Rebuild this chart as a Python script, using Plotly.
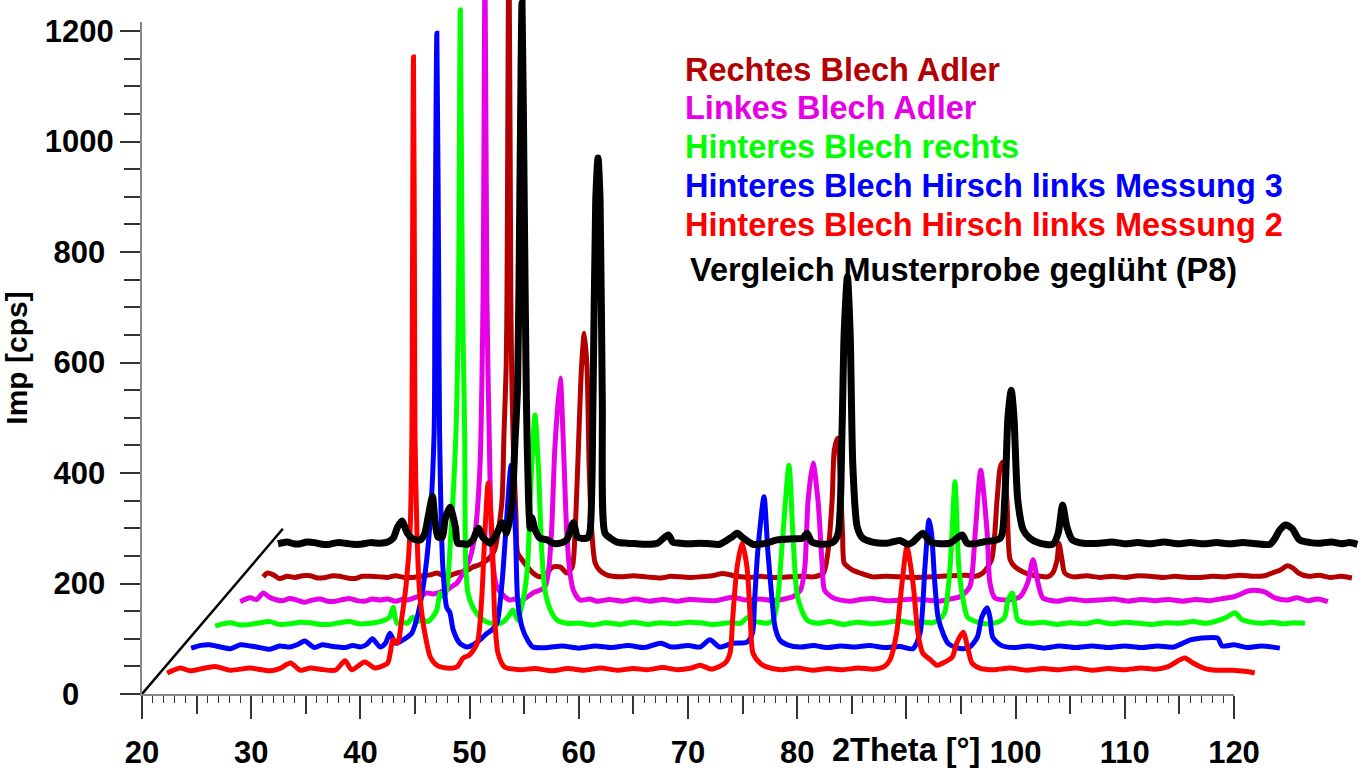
import plotly.graph_objects as go

# ---------------- data (2Theta [deg], Imp [cps]) as displayed, incl. waterfall offsets ----------------
RED_M2 = [(22.3,38),(23.5,47),(24.4,42),(25.3,45),(26.7,50),(28.1,43),(29.9,47),(31.7,42),(32.6,46),(33.6,56),
 (34.5,43),(35.4,47),(36.3,45),(37.7,43),(38.6,60),(39.2,44),(40.4,58),(41.3,47),(41.8,49),(42.5,56),(43.0,98),
 (43.4,92),(43.8,139),(44.2,200),(44.54,291),(44.72,472),(44.76,713),(44.86,1153),(44.96,713),(45.0,472),
 (45.18,291),(45.4,190),(45.6,150),(45.9,110),(46.4,67),(47.0,52),(47.9,47),(48.85,49),(49.4,65),(50.0,71),
 (50.7,92),(51.1,170),(51.4,291),(51.7,382),(52.05,291),(52.3,139),(52.6,74),(53.2,49),(54.6,44),(56.0,46),
 (57.5,42),(59.0,46),(60.5,43),(62.0,47),(63.5,43),(65.0,46),(66.3,44),(67.7,48),(69.0,44),(70.3,47),(71.1,52),
 (72.2,45),(73.4,56),(73.85,74),(74.1,139),(74.5,230),(74.95,273),(75.4,230),(75.7,139),(75.95,74),(76.6,56),
 (77.2,49),(78.5,44),(80.0,47),(81.4,43),(82.8,46),(84.2,44),(85.6,47),(87.0,45),(88.0,50),(88.5,62),(89.1,110),
 (89.6,201),(90.05,266),(90.6,201),(91.06,110),(91.5,74),(92.2,62),(92.8,52),(93.35,56),(94.2,67),(94.6,92),
 (95.2,112),(95.6,85),(96.0,56),(96.7,47),(98.0,44),(99.5,47),(101.0,43),(102.5,46),(104.0,44),(105.5,47),
 (107.0,43),(108.5,46),(110.0,44),(111.5,47),(112.8,45),(113.9,49),(115.05,62),(115.5,65),(116.25,56),
 (117.2,47),(118.4,43),(119.9,43),(121.0,41),(121.9,38)]

BLUE_M3 = [(24.5,83),(25.4,88),(26.2,89),(27.2,85),(28.1,82),(29.0,89),(29.9,87),(30.8,84),(31.7,81),(32.6,87),
 (33.55,85),(34.3,90),(34.9,96),(35.8,84),(36.5,89),(37.2,87),(38.0,85),(38.6,84),(39.3,88),(40.0,85),(40.6,90),
 (41.1,100),(41.8,85),(42.3,92),(42.7,110),(43.2,92),(43.9,98),(44.7,110),(45.3,147),(45.8,201),(46.3,291),
 (46.75,472),(46.82,713),(47.0,1196),(47.18,713),(47.25,472),(47.55,230),(47.9,157),(48.2,147),(48.5,116),
 (49.1,92),(49.8,85),(50.3,89),(50.95,98),(51.6,110),(52.05,116),(52.5,128),(52.97,201),(53.4,320),(53.8,414),
 (54.2,291),(54.4,170),(54.8,121),(55.3,98),(55.8,85),(57.1,84),(58.5,87),(60.0,83),(61.5,87),(63.0,84),
 (64.5,88),(66.0,84),(67.5,92),(68.5,85),(70.0,88),(71.1,85),(72.0,98),(72.9,85),(74.1,92),(75.4,94),(75.9,110),
 (76.1,170),(76.4,261),(76.96,357),(77.3,261),(77.7,170),(77.97,121),(78.4,98),(79.1,89),(80.3,85),(81.5,88),
 (82.7,84),(84.0,87),(85.3,85),(86.6,88),(88.0,84),(89.4,86),(90.6,82),(91.25,110),(91.7,230),(92.07,315),
 (92.3,291),(92.6,201),(92.9,139),(93.35,110),(93.8,92),(94.6,84),(95.2,82),(95.8,85),(96.5,103),(96.9,139),
 (97.4,156),(97.65,139),(97.9,103),(98.6,89),(99.8,84),(101.2,87),(102.6,83),(104.0,87),(105.5,84),(107.0,87),
 (108.5,84),(110.0,87),(111.5,84),(113.0,87),(114.5,85),(116.0,98),(116.9,101),(118.5,101),(118.9,87),
 (120.0,89),(121.2,84),(122.5,87),(124.2,83)]

GREEN_R = [(26.7,123),(27.4,127),(28.1,129),(29.0,125),(29.9,126),(30.8,129),(31.7,131),(32.6,126),(33.55,127),
 (34.5,130),(35.4,129),(36.3,126),(37.2,126),(38.1,129),(39.0,131),(39.9,127),(40.9,128),(41.6,130),(42.25,134),
 (42.7,140),(43.0,157),(43.35,128),(43.8,130),(44.3,128),(44.8,139),(45.2,131),(45.7,134),(46.2,131),(46.6,139),
 (47.0,152),(47.3,183),(47.6,176),(47.9,188),(48.25,279),(48.75,472),(48.98,713),(49.15,1238),(49.35,713),
 (49.55,472),(49.65,230),(49.85,183),(50.3,157),(50.95,139),(51.6,130),(52.1,128),(52.6,127),(53.05,130),
 (53.5,139),(53.97,152),(54.4,134),(54.9,170),(55.3,230),(55.55,351),(55.99,505),(56.3,411),(56.6,261),
 (56.9,188),(57.4,152),(58.0,134),(58.9,128),(60.1,128),(61.3,125),(62.5,129),(63.8,126),(65.0,130),(66.3,126),
 (67.5,129),(68.8,127),(70.0,130),(71.1,129),(72.3,126),(73.85,129),(74.8,128),(75.5,139),(76.0,131),(76.6,130),
 (77.2,128),(77.8,134),(78.2,170),(78.7,291),(79.25,414),(79.6,291),(79.97,183),(80.4,152),(80.9,134),
 (81.8,128),(83.0,131),(84.2,126),(85.5,130),(86.8,127),(88.0,129),(89.4,132),(90.7,128),(91.6,130),(92.4,129),
 (93.0,135),(93.5,147),(94.0,230),(94.45,384),(94.8,230),(95.2,170),(95.6,139),(96.5,130),(97.2,127),
 (97.9,128),(98.5,131),(99.0,139),(99.3,170),(99.7,183),(99.95,157),(100.2,134),(101.3,128),(102.5,130),
 (103.8,126),(105.0,129),(106.3,127),(107.5,131),(108.8,127),(110.0,130),(111.3,128),(112.5,126),(113.8,129),
 (115.0,128),(116.3,131),(117.5,128),(118.7,134),(119.4,140),(120.1,147),(120.7,135),(121.5,130),(122.5,128),
 (123.5,130),(124.5,127),(125.5,129),(126.5,128)]

MAGENTA_L = [(29.0,167),(29.9,174),(30.5,171),(31.1,183),(31.6,176),(32.2,171),(32.9,169),(33.55,173),(34.2,170),
 (34.9,166),(35.6,170),(36.3,172),(37.0,168),(37.7,168),(38.4,171),(39.0,173),(39.7,169),(40.4,168),(41.1,172),
 (41.8,170),(42.5,172),(43.2,168),(43.8,171),(44.3,170),(44.8,173),(45.2,176),(45.7,179),(46.1,183),(46.6,181),
 (47.1,183),(47.5,186),(47.9,188),(48.4,195),(48.85,201),(49.4,219),(50.0,243),(50.5,291),(50.95,411),
 (51.23,713),(51.41,1310),(51.59,713),(51.85,411),(52.1,243),(52.5,194),(53.05,179),(53.7,170),(54.1,172),
 (54.6,168),(55.3,176),(55.8,183),(56.45,188),(56.9,194),(57.2,219),(57.5,291),(57.8,442),(58.3,572),
 (58.55,472),(58.9,291),(59.2,219),(59.5,188),(60.1,170),(61.0,172),(61.7,168),(62.8,171),(64.0,168),
 (65.2,172),(66.5,168),(67.7,171),(69.0,168),(70.1,171),(71.1,170),(72.5,169),(74.1,175),(75.3,170),(76.6,172),
 (77.8,169),(78.8,172),(79.6,176),(80.3,188),(80.7,230),(81.0,351),(81.45,418),(81.9,351),(82.3,230),
 (82.5,188),(83.3,174),(84.0,170),(84.8,168),(85.8,171),(86.9,173),(88.1,169),(89.4,170),(90.6,172),(91.9,170),
 (93.0,168),(94.0,172),(94.9,176),(95.8,194),(96.3,291),(96.8,405),(97.4,291),(97.65,201),(98.1,174),
 (99.2,170),(100.4,176),(101.1,201),(101.6,243),(102.05,201),(102.5,174),(103.8,168),(105.0,172),(106.3,169),
 (107.7,170),(109.0,172),(110.3,168),(111.5,171),(112.8,169),(114.0,171),(115.3,168),(116.5,171),(117.8,169),
 (119.0,173),(120.0,176),(120.55,180),(121.2,186),(121.9,188),(122.8,185),(123.75,174),(124.8,170),(125.8,174),
 (126.8,169),(127.7,172),(128.6,167)]

DARKRED_R = [(31.1,212),(31.5,219),(32.0,216),(32.6,209),(33.3,213),(34.0,211),(34.7,214),(35.4,214),(36.1,210),
 (36.8,211),(37.5,214),(38.1,213),(38.8,210),(39.5,209),(40.2,213),(40.9,213),(41.8,212),(42.5,211),(43.2,214),
 (44.0,211),(44.8,211),(45.4,213),(45.9,214),(46.5,216),(47.0,219),(47.9,212),(48.4,216),(48.85,219),(49.3,221),
 (49.8,224),(50.3,230),(50.8,233),(51.2,237),(51.9,248),(52.3,261),(52.6,291),(52.97,351),(53.15,472),
 (53.35,592),(53.42,713),(53.6,1380),(53.78,713),(53.85,592),(53.97,472),(54.25,320),(54.4,255),(54.8,243),
 (55.3,230),(55.8,219),(56.45,212),(57.1,219),(57.6,230),(58.3,230),(58.9,219),(59.4,230),(59.65,291),
 (59.9,411),(60.25,592),(60.5,653),(60.75,592),(60.95,411),(61.2,291),(61.5,237),(61.9,224),(62.6,215),
 (63.8,212),(65.0,214),(66.2,212),(67.5,210),(68.4,213),(69.3,212),(70.2,211),(71.1,212),(72.2,214),(73.2,218),
 (74.5,213),(75.6,211),(76.6,213),(77.9,211),(79.3,212),(80.4,213),(81.45,212),(82.4,219),(82.8,255),
 (83.2,351),(83.4,442),(83.7,463),(83.9,411),(84.15,291),(84.3,237),(84.65,230),(85.1,224),(85.75,219),
 (86.9,212),(88.1,213),(89.4,212),(90.8,211),(92.4,212),(93.9,214),(95.55,215),(96.3,213),(97.0,219),
 (97.8,243),(98.3,351),(98.6,411),(98.85,420),(99.2,351),(99.5,243),(99.95,230),(100.7,221),(101.6,215),
 (102.3,213),(102.9,212),(103.4,219),(103.8,243),(103.97,273),(104.25,243),(104.5,219),(105.3,212),(106.5,214),
 (107.7,211),(108.9,213),(110.1,211),(111.2,214),(112.3,213),(113.5,211),(114.6,213),(115.8,211),(116.9,211),
 (118.0,213),(119.2,212),(120.55,215),(121.7,213),(122.8,214),(123.5,219),(124.2,224),(124.9,232),(125.4,228),
 (125.9,219),(126.8,213),(127.8,215),(128.8,211),(129.8,213),(130.8,210)]

BLACK_P8 = [(32.45,272),(33.3,275),(33.9,272),(34.5,272),(35.1,275),(35.8,274),(36.5,271),(37.2,271),(37.9,274),
 (38.6,273),(39.3,271),(40.0,271),(40.9,274),(41.8,273),(42.5,275),(43.0,282),(43.4,302),(43.8,313),(44.3,291),
 (44.7,282),(45.1,279),(45.5,279),(45.9,291),(46.2,320),(46.6,357),(46.8,320),(47.1,284),(47.5,284),(47.75,315),
 (48.2,338),(48.7,302),(48.9,273),(49.4,272),(49.8,271),(50.3,279),(50.8,300),(51.2,284),(51.9,273),(52.5,291),
 (52.97,310),(53.4,291),(53.9,351),(54.15,454),(54.4,560),(54.6,900),(54.8,1251),(55.0,900),(55.2,532),
 (55.4,351),(55.55,300),(55.7,319),(56.0,297),(56.45,282),(57.1,279),(57.6,273),(58.3,273),(58.9,279),
 (59.5,310),(59.9,284),(60.75,282),(61.0,291),(61.3,532),(61.55,894),(61.76,970),(61.95,894),(62.15,532),
 (62.4,291),(62.9,282),(63.5,275),(64.4,273),(65.3,272),(66.2,271),(67.2,273),(68.2,288),(68.6,275),(69.3,273),
 (70.2,272),(71.1,273),(72.0,272),(72.9,271),(74.0,284),(74.5,291),(74.95,284),(75.95,271),(77.2,273),
 (78.15,279),(79.6,281),(80.5,282),(80.9,291),(81.35,275),(82.4,271),(83.3,275),(83.75,291),(84.1,472),
 (84.3,653),(84.6,755),(84.85,653),(85.1,411),(85.5,302),(86.0,282),(86.9,275),(88.2,273),(89.4,278),
 (90.15,271),(90.6,275),(91.5,291),(92.2,275),(93.1,272),(94.0,273),(95.1,288),(95.55,273),(96.3,272),
 (97.0,275),(98.6,282),(99.0,351),(99.3,501),(99.6,550),(99.85,501),(100.2,351),(100.7,297),(101.3,282),
 (102.2,273),(103.4,271),(103.9,291),(104.3,342),(104.7,302),(105.2,279),(106.2,273),(107.7,273),(108.8,275),
 (110.0,272),(111.2,274),(112.4,272),(113.6,275),(114.8,272),(116.0,274),(117.2,272),(118.4,274),(119.6,272),
 (120.8,274),(122.0,272),(123.3,271),(123.7,280),(124.2,297),(124.7,306),(125.3,300),(126.0,279),(127.0,274),
 (127.9,273),(128.9,275),(129.9,272),(130.6,274),(131.3,271)]

SERIES_NAMES = ["Rechtes Blech Adler", "Linkes Blech Adler", "Hinteres Blech rechts",
                "Hinteres Blech Hirsch links Messung 3", "Hinteres Blech Hirsch links Messung 2",
                "Vergleich Musterprobe geglüht (P8)"]
SERIES_DATA = [DARKRED_R, MAGENTA_L, GREEN_R, BLUE_M3, RED_M2, BLACK_P8]
SERIES_COLORS = ["#b40000", "#e600e6", "#00ff00", "#0000ff", "#ff0000", "#000000"]

DEPTH_X = [20, 32.9]
DEPTH_Y = [0, 299]

X_TICKS = [20, 30, 40, 50, 60, 70, 80, 90, 100, 110, 120]
X_TICK_TEXT = ["20", "30", "40", "50", "60", "70", "80", "", "100", "110", "120"]
X_MID_TICKS = [25, 35, 45, 55, 65, 75, 85, 95, 105, 115]
Y_TICKS = [0, 200, 400, 600, 800, 1000, 1200]
Y_TICK_TEXT = ["0\u00a0\u00a0\u00a0\u00a0", "200\u00a0", "400\u00a0", "600\u00a0", "800\u00a0", "1000", "1200"]

# ---------------- figure ----------------
W, H = 1363, 771
FONT = "Liberation Sans, Arial, sans-serif"
fig = go.Figure()

widths = [5, 5, 5, 5, 5, 7]
for name, pts, col, lw in zip(SERIES_NAMES, SERIES_DATA, SERIES_COLORS, widths):
    fig.add_trace(go.Scatter(x=[p[0] for p in pts], y=[p[1] for p in pts], mode="lines", name=name,
                             line=dict(color=col, width=lw, shape="spline", smoothing=0.7),
                             xaxis="x", yaxis="y", showlegend=False))

fig.add_trace(go.Scatter(x=DEPTH_X, y=DEPTH_Y, mode="lines", line=dict(color="black", width=2.5),
                         xaxis="x2", yaxis="y2", showlegend=False, hoverinfo="skip"))

px_per_x = 10.92
px_per_y = 663 / 1200
plot_w = W - 142
plot_h = 694
x2_frac = (1234 - 142) / plot_w
y2_frac = (694 - 22) / plot_h

tickfont = dict(family=FONT, size=31, color="black", weight="bold")

fig.update_layout(
    width=W, height=H, autosize=False,
    margin=dict(l=142, r=0, t=0, b=H - 694, pad=0, autoexpand=False),
    paper_bgcolor="white", plot_bgcolor="rgba(0,0,0,0)",
    xaxis=dict(domain=[0, 1], range=[20, 20 + plot_w / px_per_x], anchor="y", automargin=False,
               showline=False, showgrid=False, zeroline=False, showticklabels=False,
               tickmode="array", tickvals=X_MID_TICKS, ticks="outside", ticklen=19,
               tickwidth=1.5, tickcolor="#333333"),
    yaxis=dict(domain=[0, 1], range=[0, plot_h / px_per_y], visible=False, anchor="x", automargin=False),
    xaxis2=dict(domain=[0, x2_frac], range=[20, 120], anchor="y2", automargin=False,
                showline=True, linecolor="#888888", linewidth=2, showgrid=False, zeroline=False,
                tickmode="array", tickvals=X_TICKS, ticktext=X_TICK_TEXT, ticks="outside",
                ticklen=23, tickwidth=1.5, tickcolor="#333333", tickfont=tickfont,
                ticklabelstandoff=7,
                minor=dict(tickmode="linear", tick0=20, dtick=1, ticks="outside", ticklen=7,
                           tickwidth=1.2, tickcolor="#333333")),
    yaxis2=dict(domain=[0, y2_frac], range=[0, (694 - 22) / px_per_y], anchor="x2", automargin=False,
                showline=True, linecolor="#888888", linewidth=2, showgrid=False, zeroline=False,
                tickmode="array", tickvals=Y_TICKS, ticktext=Y_TICK_TEXT, ticks="outside",
                ticklen=20, tickwidth=1.5, tickcolor="#333333", tickfont=tickfont,
                minor=dict(tickmode="linear", tick0=0, dtick=50, ticks="outside", ticklen=16,
                           tickwidth=1.5, tickcolor="#333333"),
                title=dict(text="Imp [cps]", font=dict(family=FONT, size=30, color="black", weight="bold"),
                           standoff=8)),
)

# x-axis title placed where the 90 label would be
fig.add_annotation(x=90, xref="x2", y=(694 - 750) / plot_h, yref="paper", text="2Theta [°]",
                   showarrow=False, xanchor="center", yanchor="middle",
                   font=dict(family=FONT, size=32.5, color="black", weight="bold"))

# text legend
legend_y_px = [70, 108, 147, 186, 225, 270]
legend_x_px = [683, 683, 683, 683, 683, 688]
for name, col, lx, ly in zip(SERIES_NAMES, SERIES_COLORS, legend_x_px, legend_y_px):
    fig.add_annotation(x=(lx - 142) / plot_w, xref="paper", y=(694 - ly) / plot_h, yref="paper",
                       text=name, showarrow=False, xanchor="left", yanchor="middle",
                       font=dict(family=FONT, size=32.5, color=col, weight="bold"))

fig.write_html("out.html", config={"displayModeBar": False},
               post_script="document.body.style.margin='0';document.body.style.padding='0';"
                           "document.documentElement.style.overflow='hidden';")
